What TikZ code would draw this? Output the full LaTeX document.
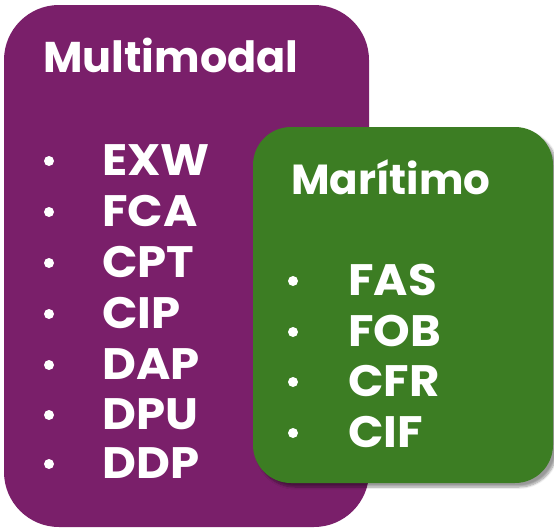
\documentclass[tikz,border=0pt]{standalone}
\usepackage{fontspec}
\setmainfont{Poppins}
\usetikzlibrary{shadows.blur}
\definecolor{purp}{RGB}{122,31,106}
\definecolor{grn}{RGB}{60,125,35}
\tikzset{
  title/.style={anchor=base west, inner sep=0pt, text=white, font=\bfseries\fontsize{43}{43}\selectfont},
  item/.style={anchor=base west, inner sep=0pt, text=white, font=\bfseries\fontsize{44}{44}\selectfont\addfontfeature{FakeStretch=1.06}},
  dot/.style={circle, fill=white, inner sep=0pt, minimum size=10pt},
}
\begin{document}
\begin{tikzpicture}[x=1pt,y=-1pt]
\useasboundingbox (0,0) rectangle (554,528);
\fill[purp, rounded corners=55pt] (4,5) rectangle (369,527);
\node[title] (mm) at (43,72) {Multimodal};
\foreach \t/\yy [count=\i] in {EXW/175,FCA/226,CPT/277,CIP/328,DAP/379,DPU/429,DDP/478}{
  \node[item] (m\i) at (102,\yy) {\t};
  \node[dot] (md\i) at (49,\yy-14) {};
}
\fill[grn, rounded corners=38pt, blur shadow={shadow xshift=4pt, shadow yshift=-4pt, shadow opacity=40, shadow blur steps=8}] (253,127) rectangle (553,483);
\node[title, font=\bfseries\fontsize{42}{42}\selectfont] (mt) at (291,194) {Marítimo};
\foreach \t/\yy [count=\i] in {FAS/295,FOB/346,CFR/396,CIF/447}{
  \node[item] (g\i) at (348,\yy) {\t};
  \node[dot] (gd\i) at (293,\yy-14) {};
}
\end{tikzpicture}
\end{document}
